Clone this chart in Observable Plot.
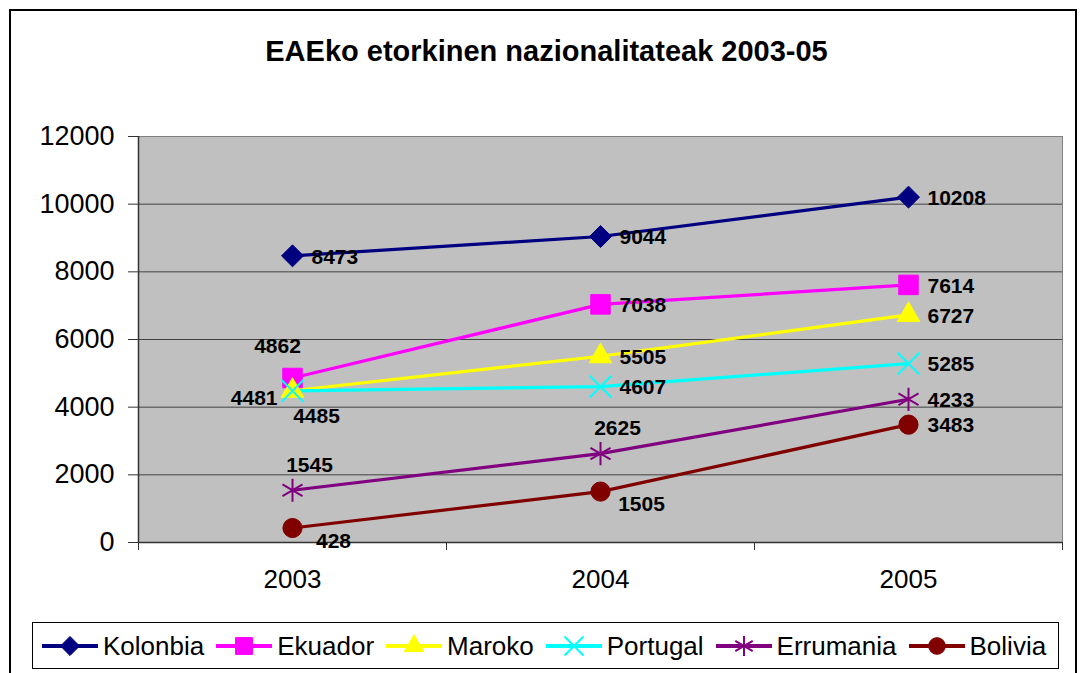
<!DOCTYPE html>
<html>
<head>
<meta charset="utf-8">
<script src="https://cdn.jsdelivr.net/npm/d3@7"></script>
<script src="https://cdn.jsdelivr.net/npm/@observablehq/plot@0.6"></script>
<style>
  html, body { margin: 0; padding: 0; background: #fff; }
  body { width: 1084px; height: 673px; overflow: hidden; position: relative;
         font-family: Arial, "Liberation Sans", sans-serif; }
  #frame { position: absolute; left: 9px; top: 9px; width: 1068px; height: 720px;
           border: 2px solid #000; border-bottom: none; box-sizing: border-box; }
  #title { position: absolute; left: 0; top: 33px; width: 1093px; text-align: center;
           font-weight: bold; font-size: 29px; line-height: 36px; color: #000; }
  #chart { position: absolute; left: 0; top: 100px; }
  #legend { position: absolute; left: 32px; top: 622px; width: 1027px; height: 47px;
            border: 1px solid #000; box-sizing: border-box; background: #fff;
            display: flex; align-items: center; padding-left: 9px; }
  .item { display: flex; align-items: center; margin-right: 12px; }
  .item span { font-size: 26px; color: #000; margin-left: 5px; line-height: 30px; }
</style>
</head>
<body>
<div id="frame"></div>
<div id="title">EAEko etorkinen nazionalitateak 2003-05</div>
<div id="chart"></div>
<div id="legend"></div>
<script>
// ---- data ----
const years = [2003, 2004, 2005];
const seriesNames = ["Kolonbia", "Ekuador", "Maroko", "Portugal", "Errumania", "Bolivia"];
const kolonbia  = [8473, 9044, 10208];
const ekuador   = [4862, 7038, 7614];
const maroko    = [4485, 5505, 6727];
const portugal  = [4481, 4607, 5285];
const errumania = [1545, 2625, 4233];
const bolivia   = [428, 1505, 3483];
const yTicks = [0, 2000, 4000, 6000, 8000, 10000, 12000];

// ---- styles (not data) ----
const values = [kolonbia, ekuador, maroko, portugal, errumania, bolivia];
const colors = ["#000080", "#FF00FF", "#FFFF00", "#00FFFF", "#800080", "#800000"];
const symbols = ["diamond2", "square", "triangle", "times", "asterisk", "circle"];
const symbolR = [9.9, 11, 8.4, 10, 11, 9.6];
const filled = [true, true, true, false, false, true];
// label placement keyword per point
const placements = [
  ["r", "r", "r"],
  ["al", "r", "r"],
  ["br", "r", "r"],
  ["l", "r", "r"],
  ["ar", "ar", "r"],
  ["brb", "brb", "r"]
];
const offsets = {
  r:   {dx: 19,  dy: 1,   textAnchor: "start"},
  al:  {dx: -15, dy: -32, textAnchor: "middle"},
  ar:  {dx: 17,  dy: -25, textAnchor: "middle"},
  br:  {dx: 24,  dy: 26,  textAnchor: "middle"},
  brb: {dx: 41,  dy: 13,  textAnchor: "middle"},
  l:   {dx: -15, dy: 7,   textAnchor: "end"}
};

const rows = [];
seriesNames.forEach((s, i) => values[i].forEach((v, j) =>
  rows.push({series: s, year: years[j], value: v, place: placements[i][j]})));

const font = 'Arial, "Liberation Sans", sans-serif';

const marks = [
  Plot.frame({fill: "#C0C0C0", stroke: "#808080"}),
  Plot.gridY(yTicks.filter(t => t > 0 && t < 12000), {stroke: "#404040", strokeOpacity: 1}),
  Plot.ruleX([2002.5], {stroke: "#333", strokeWidth: 1.5}),
  Plot.ruleY([0], {stroke: "#333", strokeWidth: 1.5}),
  Plot.axisY(yTicks, {tickSize: 10, tickPadding: 14, fontSize: 27, color: "#000", stroke: "#333",
                      label: null, tickFormat: d => String(d)}),
  Plot.axisX([2002.5, 2003.5, 2004.5, 2005.5], {tickSize: 8, stroke: "#333", label: null, tickFormat: () => ""}),
  Plot.axisX(years, {tickSize: 0, tickPadding: 27, fontSize: 26, color: "#000", label: null,
                     tickFormat: d => String(d)}),
  Plot.line(rows, {x: "year", y: "value", z: "series", stroke: "series", strokeWidth: 3.2})
];
seriesNames.forEach((s, i) => {
  const data = rows.filter(d => d.series === s);
  marks.push(Plot.dot(data, {
    x: "year", y: "value", symbol: () => symbols[i], r: symbolR[i],
    fill: filled[i] ? colors[i] : "none",
    stroke: colors[i], strokeWidth: filled[i] ? 1 : 2
  }));
});
Object.entries(offsets).forEach(([key, o]) => {
  marks.push(Plot.text(rows.filter(d => d.place === key), {
    x: "year", y: "value", text: d => String(d.value),
    dx: o.dx, dy: o.dy, textAnchor: o.textAnchor,
    fontSize: 21, fontWeight: "bold", fill: "#000"
  }));
});

const chart = Plot.plot({
  width: 1084, height: 500,
  marginTop: 36, marginBottom: 58, marginLeft: 138, marginRight: 22,
  style: {background: "transparent", fontFamily: font, overflow: "visible"},
  x: {domain: [2002.5, 2005.5], axis: null},
  y: {domain: [0, 12000], axis: null},
  symbol: {type: "identity"},
  color: {domain: seriesNames, range: colors},
  marks
});
document.getElementById("chart").appendChild(chart);

// ---- legend ----
const legend = document.getElementById("legend");
seriesNames.forEach((s, i) => {
  const item = document.createElement("div");
  item.className = "item";
  const svg = d3.create("svg").attr("width", 56).attr("height", 24);
  svg.append("line").attr("x1", 0).attr("x2", 56).attr("y1", 12).attr("y2", 12)
    .attr("stroke", colors[i]).attr("stroke-width", 4);
  const symMap = {diamond2: d3.symbolDiamond2, square: d3.symbolSquare, triangle: d3.symbolTriangle,
                  times: d3.symbolTimes, asterisk: d3.symbolAsterisk, circle: d3.symbolCircle};
  const size = Math.PI * symbolR[i] * symbolR[i] * 0.75;
  svg.append("path").attr("transform", "translate(28,12)")
    .attr("d", d3.symbol(symMap[symbols[i]], size)())
    .attr("fill", filled[i] ? colors[i] : "none")
    .attr("stroke", colors[i]).attr("stroke-width", filled[i] ? 1 : 2);
  item.appendChild(svg.node());
  const label = document.createElement("span");
  label.textContent = s;
  item.appendChild(label);
  legend.appendChild(item);
});
</script>
</body>
</html>
